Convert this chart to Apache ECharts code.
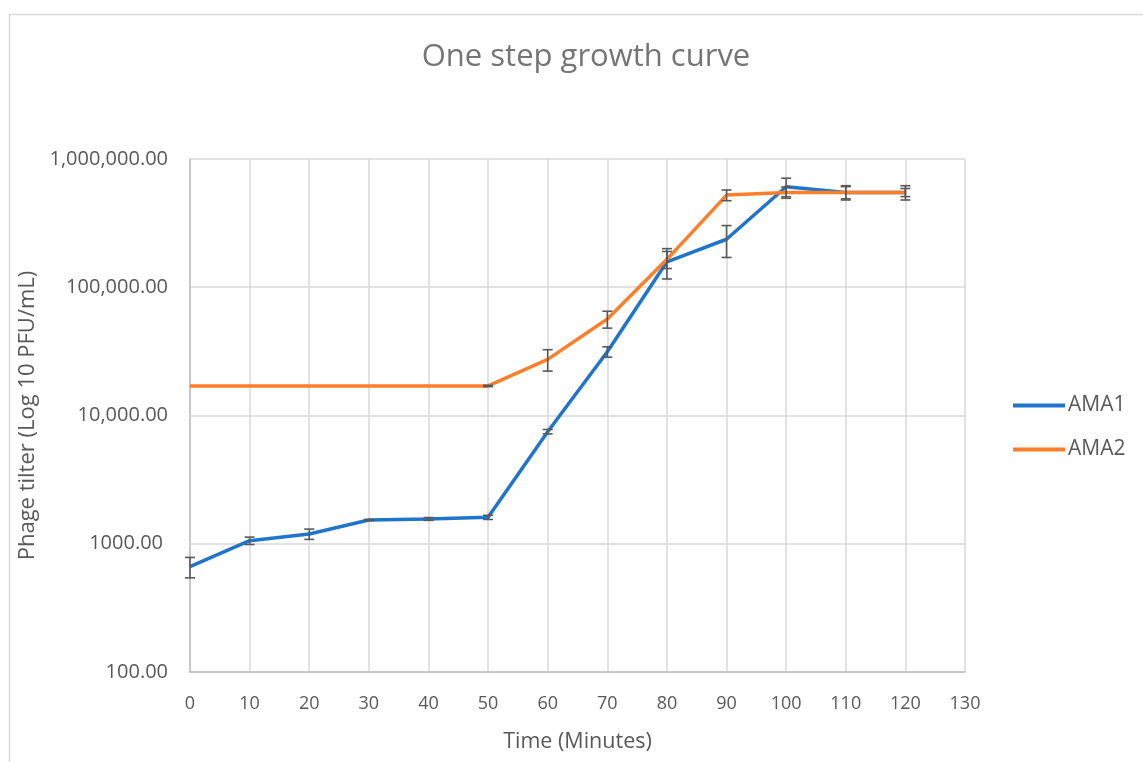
<!DOCTYPE html>
<html><head><meta charset="utf-8">
<script src="https://cdn.jsdelivr.net/npm/echarts@6/dist/echarts.min.js"></script>
<style>html,body{margin:0;padding:0;background:#fff}#c{width:1143px;height:762px}</style>
</head><body><div id="c"></div>
<script>
const times = [0,10,20,30,40,50,60,70,80,90,100,110,120];
const ama1 = [662,1057,1191,1531,1561,1607,7480,31400,158000,236700,608000,549000,549000];
const ama1Err = [120,70,110,15,40,60,300,2900,42000,66000,100000,70000,70000];
const ama2 = [17000,17000,17000,17000,17000,17000,27400,56500,165000,523000,549000,549000,549000];
const ama2Err = [0,0,0,0,0,200,5200,8500,25000,50000,55000,60000,40000];
const yTicks = [100,1000,10000,100000,1000000];

const gray = '#595959';
function errData(vals, errs){
  return times.map((t,i)=>[t, vals[i]-errs[i], vals[i]+errs[i]]).filter((d,i)=>errs[i]>0);
}
function renderErr(params, api){
  const x = api.value(0);
  const lo = api.coord([x, api.value(1)]);
  const hi = api.coord([x, api.value(2)]);
  const w = 5;
  const st = {stroke: gray, lineWidth: 1.6, fill: 'none'};
  return {type:'group', children:[
    {type:'line', shape:{x1:lo[0],y1:lo[1],x2:hi[0],y2:hi[1]}, style:st},
    {type:'line', shape:{x1:lo[0]-w,y1:lo[1],x2:lo[0]+w,y2:lo[1]}, style:st},
    {type:'line', shape:{x1:hi[0]-w,y1:hi[1],x2:hi[0]+w,y2:hi[1]}, style:st}
  ]};
}
function fmtY(v){
  if (v >= 10000) return '{n|' + v.toLocaleString('en-US',{minimumFractionDigits:2, maximumFractionDigits:2}) + '}';
  if (v === 1000) return '{p|' + v.toFixed(2) + '}';
  return '{n|' + v.toFixed(2) + '}';
}
const yLabStyle = {fontFamily:'Open Sans', fontSize:20, color:gray};
const chart = echarts.init(document.getElementById('c'));
chart.setOption({
  animation:false,
  backgroundColor:'#fff',
  title:{text:'One step growth curve', left:581, textAlign:'center', top:37,
    textStyle:{fontFamily:'Open Sans', fontSize:31, fontWeight:'normal', color:'#757575'}},
  grid:{left:190, right:178, top:159, bottom:90},
  legend:{orient:'vertical', left:1013, top:395, padding:0, itemWidth:52, itemHeight:4, itemGap:23, icon:'rect',
    textStyle:{fontFamily:'Open Sans', fontSize:21, color:gray, padding:[0,0,0,-2]},
    data:['AMA1','AMA2']},
  graphic:[{type:'rect', shape:{x:9.5, y:14.5, width:1200, height:800}, style:{fill:'none', stroke:'#d9d9d9', lineWidth:1.5}, silent:true}],
  xAxis:{type:'value', min:0, max:130, interval:10,
    name:'Time (Minutes)', nameLocation:'middle', nameGap:59,
    nameTextStyle:{fontFamily:'Open Sans', fontSize:21.5, color:gray},
    axisLine:{lineStyle:{color:'#bfbfbf', width:1.5}}, axisTick:{show:false},
    axisLabel:{fontFamily:'Open Sans', fontSize:18, color:gray, margin:23},
    splitLine:{show:true, lineStyle:{color:'#d9d9d9', width:1.5}}},
  yAxis:{type:'log', logBase:10, min:100, max:1000000,
    name:'Phage tilter (Log 10 PFU/mL)', nameLocation:'middle', nameGap:141, nameRotate:90,
    nameTextStyle:{fontFamily:'Open Sans', fontSize:22, color:gray},
    axisLine:{show:true, lineStyle:{color:'#bfbfbf', width:1.5}}, axisTick:{show:false},
    axisLabel:{fontFamily:'Open Sans', fontSize:20, color:gray, margin:22, formatter:fmtY,
      rich:{n:yLabStyle, p:Object.assign({padding:[0,5,0,0]}, yLabStyle)}},
    splitLine:{show:true, lineStyle:{color:'#d9d9d9', width:1.5}}},
  series:[
    {name:'AMA1', type:'line', data:times.map((t,i)=>[t,ama1[i]]), symbol:'none',
      lineStyle:{color:'#1f75cc', width:3.5}, itemStyle:{color:'#1f75cc'}, z:3},
    {name:'AMA2', type:'line', data:times.map((t,i)=>[t,ama2[i]]), symbol:'none',
      lineStyle:{color:'#fd7f2a', width:3.5}, itemStyle:{color:'#fd7f2a'}, z:4},
    {type:'custom', data:errData(ama1, ama1Err), renderItem:renderErr, z:5, silent:true},
    {type:'custom', data:errData(ama2, ama2Err), renderItem:renderErr, z:5, silent:true}
  ]
});
</script></body></html>
